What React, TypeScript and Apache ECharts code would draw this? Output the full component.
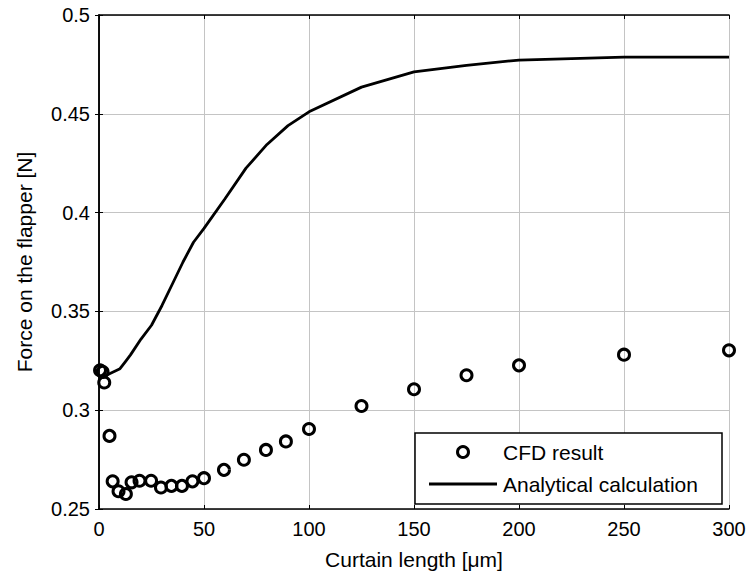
import React, { useEffect, useRef } from "react";
import * as echarts from "echarts";

const cfdX = [0.5, 1.7, 2.5, 5, 6.5, 9.3, 12.8, 15.5, 19.3, 24.8, 29.5, 34.5, 39.5, 44.5, 50, 59.5, 69, 79.5, 89, 100, 125, 150, 175, 200, 250, 300];
const cfdY = [0.3202, 0.3194, 0.314, 0.287, 0.264, 0.259, 0.2576, 0.2635, 0.2643, 0.2643, 0.2609, 0.2617, 0.2617, 0.264, 0.2656, 0.2698, 0.2749, 0.2799, 0.2842, 0.2905, 0.3021, 0.3106, 0.3177, 0.3227, 0.3281, 0.3303];

const anaX = [1.5, 5, 10, 12.5, 15, 20, 25, 30, 35, 40, 45, 50, 60, 70, 80, 90, 100, 125, 150, 175, 200, 250, 300];
const anaY = [0.3165, 0.3185, 0.321, 0.3245, 0.328, 0.336, 0.343, 0.353, 0.364, 0.375, 0.385, 0.392, 0.407, 0.4225, 0.4345, 0.444, 0.451, 0.4635, 0.4712, 0.4745, 0.4772, 0.4787, 0.4787];

const legendLabels = ["CFD result", "Analytical calculation"];
const xName = "Curtain length [\u03bcm]";
const yName = "Force on the flapper [N]";

const FONT = "Liberation Sans, Arial, Helvetica, sans-serif";

export default function App() {
  const ref = useRef<HTMLDivElement>(null);
  useEffect(() => {
    if (!ref.current) return;
    const chart = echarts.init(ref.current, undefined, { renderer: "svg" });
    const axisCommon = {
      axisLine: { show: true, lineStyle: { color: "#000", width: 1.5 } },
      axisTick: { show: true, inside: true, length: 4, lineStyle: { color: "#000", width: 1 } },
    };
    chart.setOption({
      animation: false,
      backgroundColor: "#fff",
      textStyle: { fontFamily: FONT },
      grid: { left: 99, top: 15, right: 20, bottom: 64, containLabel: false },
      xAxis: [
        {
          type: "value",
          min: 0,
          max: 300,
          interval: 50,
          position: "bottom",
          ...axisCommon,
          axisLabel: { color: "#000", fontSize: 20, fontFamily: FONT, margin: 10 },
          splitLine: { show: true, lineStyle: { color: "#c4c4c4", width: 1 } },
          name: xName,
          nameLocation: "middle",
          nameGap: 40,
          nameTextStyle: { color: "#000", fontSize: 21, fontFamily: FONT },
        },
        {
          type: "value",
          min: 0,
          max: 300,
          interval: 50,
          position: "top",
          ...axisCommon,
          axisLabel: { show: false },
          splitLine: { show: false },
        },
      ],
      yAxis: [
        {
          type: "value",
          min: 0.25,
          max: 0.5,
          interval: 0.05,
          position: "left",
          ...axisCommon,
          axisLabel: { color: "#000", fontSize: 20, fontFamily: FONT, margin: 9 },
          splitLine: { show: true, lineStyle: { color: "#c4c4c4", width: 1 } },
          name: yName,
          nameLocation: "middle",
          nameGap: 64,
          nameTextStyle: { color: "#000", fontSize: 21, fontFamily: FONT },
        },
        {
          type: "value",
          min: 0.25,
          max: 0.5,
          interval: 0.05,
          position: "right",
          ...axisCommon,
          axisLabel: { show: false },
          splitLine: { show: false },
        },
      ],
      series: [
        {
          name: legendLabels[1],
          type: "line",
          data: anaX.map((x, i) => [x, anaY[i]]),
          showSymbol: false,
          symbol: "none",
          lineStyle: { color: "#000", width: 2.8 },
          z: 3,
        },
        {
          name: legendLabels[0],
          type: "scatter",
          data: cfdX.map((x, i) => [x, cfdY[i]]),
          symbol: "circle",
          symbolSize: 11,
          itemStyle: { color: "rgba(255,255,255,0)", borderColor: "#000", borderWidth: 3, opacity: 1 },
          z: 4,
        },
      ],
      graphic: [
        {
          type: "group",
          z: 100,
          children: [
            {
              type: "rect",
              shape: { x: 415, y: 433, width: 307, height: 71 },
              style: { fill: "#fff", stroke: "#000", lineWidth: 1.5 },
              z: 100,
            },
            {
              type: "circle",
              shape: { cx: 463, cy: 452, r: 5.5 },
              style: { fill: "none", stroke: "#000", lineWidth: 3 },
              z: 101,
            },
            {
              type: "line",
              shape: { x1: 429, y1: 484, x2: 497, y2: 484 },
              style: { stroke: "#000", lineWidth: 2.8 },
              z: 101,
            },
            {
              type: "text",
              x: 503,
              y: 452,
              style: { text: legendLabels[0], fontSize: 21, fontFamily: FONT, fill: "#000", verticalAlign: "middle", align: "left" },
              z: 101,
            },
            {
              type: "text",
              x: 503,
              y: 484,
              style: { text: legendLabels[1], fontSize: 21, fontFamily: FONT, fill: "#000", verticalAlign: "middle", align: "left" },
              z: 101,
            },
          ],
        },
      ],
    });
    return () => chart.dispose();
  }, []);
  return <div ref={ref} style={{ width: 749, height: 575, position: "absolute", left: 0, top: 0 }} />;
}
